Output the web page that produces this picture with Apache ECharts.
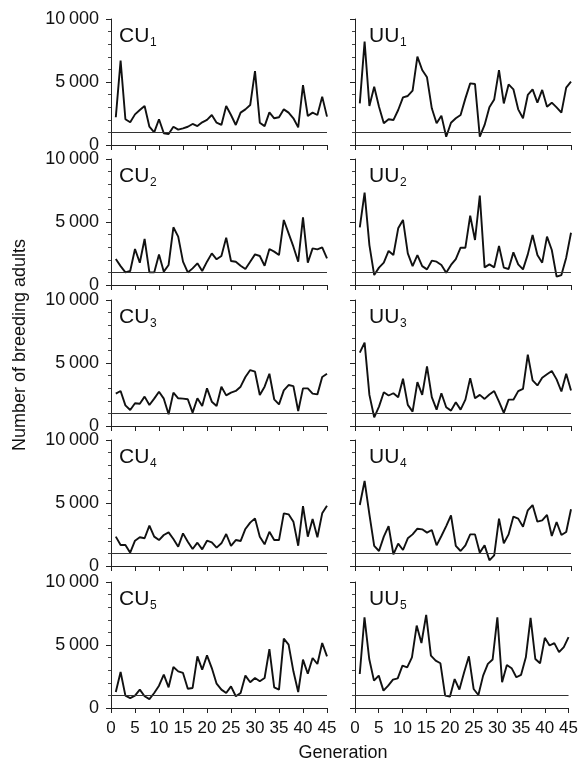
<!DOCTYPE html>
<html>
<head>
<meta charset="utf-8">
<script src="https://cdn.jsdelivr.net/npm/echarts@6/dist/echarts.min.js"></script>
<style>html,body{margin:0;padding:0;background:#fff}#c{width:581px;height:769px}</style>
</head>
<body>
<div id="c"></div>
<script>
var gens = [1,2,3,4,5,6,7,8,9,10,11,12,13,14,15,16,17,18,19,20,21,22,23,24,25,26,27,28,29,30,31,32,33,34,35,36,37,38,39,40,41,42,43,44,45];
var threshold = 1000;
var xTicks = [0,5,10,15,20,25,30,35,40,45];
var yTicks = [0,5000,10000];

var cu1 = [2200,6700,2040,1800,2430,2780,3100,1450,1000,2040,930,870,1450,1220,1320,1450,1670,1500,1800,2000,2380,1770,1590,3100,2380,1590,2570,2830,3170,5870,1770,1500,2590,2120,2200,2830,2570,2120,1400,4760,2300,2570,2380,3840,2250];
var uu1 = [3300,8200,3100,4630,3040,1720,2040,1980,2780,3780,3890,4310,7010,5950,5370,2910,1720,2330,660,1770,2120,2380,3700,4890,4840,660,1590,2990,3620,5950,3300,4810,4420,2830,2120,3970,4420,3360,4370,3040,3360,2990,2570,4550,5030];
var cu2 = [2060,1500,1000,1110,2860,1770,3650,1000,1000,2430,1060,1590,4580,3840,1850,1000,1320,1720,1110,1850,2510,2040,2300,3760,1900,1850,1530,1270,1850,2430,2300,1530,2860,2650,2380,5160,4100,3040,1850,5370,1770,2910,2830,2990,2120];
var uu2 = [4580,7330,3170,790,1380,1770,2700,2380,4500,5160,2510,1500,2380,1500,1240,1930,1850,1590,980,1590,2060,2960,2960,5500,3570,7090,1400,1640,1400,3100,1380,1270,2590,1640,1240,2430,3970,2380,1770,3840,2780,660,790,2170,4150];
var cu3 = [2570,2780,1640,1270,1800,1770,2330,1670,2170,2720,2170,930,2650,2200,2170,2120,1060,2200,1590,2990,1930,1590,3120,2430,2650,2780,3120,3890,4440,4310,2460,3120,4150,2120,1720,2830,3250,3170,1190,2990,2990,2570,2510,3890,4150];
var uu3 = [5820,6620,2470,690,1540,2680,2420,2600,2290,3750,1680,1140,3480,2470,4730,2290,1300,2600,1490,1220,1890,1300,2090,3800,2200,2470,2150,2500,2770,1940,1040,2090,2090,2770,2950,5670,3620,3220,3830,4100,4360,3700,2740,4150,2820];
var cu4 = [2330,1670,1670,1060,2010,2280,2200,3200,2330,2060,2460,2670,2140,1530,2590,1930,1350,1850,1320,2010,1880,1460,1800,2540,1590,2060,1980,2940,3440,3780,2330,1720,2720,2060,2060,4180,4100,3520,1610,4760,2330,3730,2280,4180,4790];
var uu4 = [4840,6750,4100,1590,1190,2330,3170,930,1770,1270,2200,2510,2960,2910,2650,2860,1640,2380,3170,4020,1590,1190,1640,2510,2510,1060,1640,450,850,3760,1800,2510,3920,3760,3120,4420,4840,3520,3620,4050,2380,3490,2460,2700,4500];
var cu5 = [1270,2860,980,790,980,1460,930,710,1190,1770,2650,1640,3250,2910,2780,1530,1590,4100,3040,4180,3170,1930,1460,1190,1720,930,1190,2570,2040,2380,2120,2380,4680,1640,1460,5500,5030,2910,1270,3840,2720,3970,3490,5160,4100];
var uu5 = [2700,7200,3890,2170,2570,1380,1770,2250,2350,3360,3230,4020,6540,5160,7390,4150,3760,3550,980,900,2300,1460,2840,4100,1510,1030,2570,3500,3850,7200,2040,3420,3160,2440,2630,4020,7160,3890,3550,5570,4960,5150,4430,4830,5620];

var leftSeries = [cu1, cu2, cu3, cu4, cu5];
var rightSeries = [uu1, uu2, uu3, uu4, uu5];
var leftNames = ['CU', 'CU', 'CU', 'CU', 'CU'];
var rightNames = ['UU', 'UU', 'UU', 'UU', 'UU'];
var subs = ['1', '2', '3', '4', '5'];

var FONT = '"Liberation Sans", Arial, sans-serif';
var tops = [19, 159, 300, 440, 582];
var H = 126;
var lefts = [111, 355];
var W = 216;

var grids = [], xAxes = [], yAxes = [], series = [], graphics = [];
function fmtY(v) {
  if (v === 10000) return '10\u2009000';
  if (v === 5000) return '5\u2009000';
  return String(v);
}
var idx = 0;
for (var r = 0; r < 5; r++) {
  for (var c = 0; c < 2; c++) {
    grids.push({ left: lefts[c], top: tops[r], width: W, height: H, containLabel: false });
    xAxes.push({
      type: 'value', gridIndex: idx, min: 0, max: 45, interval: 5,
      axisLine: { show: true, onZero: false, lineStyle: { color: '#222', width: 1 } },
      axisTick: { show: true, inside: false, length: 5, lineStyle: { color: '#222', width: 1 } },
      axisLabel: { show: r === 4, color: '#111', fontSize: 17, fontFamily: FONT, margin: 12,
        formatter: function (v) { return xTicks.indexOf(v) >= 0 ? String(v) : ''; } },
      splitLine: { show: false }
    });
    yAxes.push({
      type: 'value', gridIndex: idx, min: 0, max: 10000, interval: 5000,
      axisLine: { show: true, lineStyle: { color: '#222', width: 1 } },
      axisTick: { show: true, inside: false, length: 5, lineStyle: { color: '#222', width: 1 } },
      minorTick: { show: true, splitNumber: 5, length: 3, lineStyle: { color: '#444', width: 1 } },
      axisLabel: { show: c === 0, color: '#111', fontSize: 18, fontFamily: FONT, margin: 12,
        formatter: function (v) { return yTicks.indexOf(v) >= 0 ? fmtY(v) : ''; } },
      splitLine: { show: false }
    });
    var vals = c === 0 ? leftSeries[r] : rightSeries[r];
    series.push({
      type: 'line', xAxisIndex: idx, yAxisIndex: idx,
      data: gens.map(function (g, i) { return [g, vals[i]]; }),
      showSymbol: false, symbol: 'none', animation: false,
      lineStyle: { color: '#111', width: 1.9 },
      markLine: {
        silent: true, symbol: 'none', animation: false,
        label: { show: false },
        lineStyle: { color: '#333', width: 1, type: 'solid' },
        data: [{ yAxis: threshold }]
      }
    });
    var lx = lefts[c] + (c === 0 ? 8 : 14);
    graphics.push({
      type: 'text', x: lx, y: tops[r] + 17,
      style: { text: c === 0 ? leftNames[r] : rightNames[r], font: '21px ' + FONT, fill: '#111', textAlign: 'left', textVerticalAlign: 'middle' }
    });
    graphics.push({
      type: 'text', x: lx + 31, y: tops[r] + 24,
      style: { text: subs[r], font: '12px ' + FONT, fill: '#111', textAlign: 'left', textVerticalAlign: 'middle' }
    });
    idx++;
  }
}

graphics.push({ type: 'text', x: 20, y: 345, rotation: Math.PI / 2,
  style: { text: 'Number of breeding adults', font: '18px ' + FONT, fill: '#111', textAlign: 'center', textVerticalAlign: 'middle' } });
graphics.push({ type: 'text', x: 343, y: 753,
  style: { text: 'Generation', font: '18px ' + FONT, fill: '#111', textAlign: 'center', textVerticalAlign: 'middle' } });

var chart = echarts.init(document.getElementById('c'), null, { renderer: 'canvas' });
chart.setOption({
  animation: false,
  backgroundColor: '#fff',
  grid: grids,
  xAxis: xAxes,
  yAxis: yAxes,
  series: series,
  graphic: graphics
});
</script>
</body>
</html>
